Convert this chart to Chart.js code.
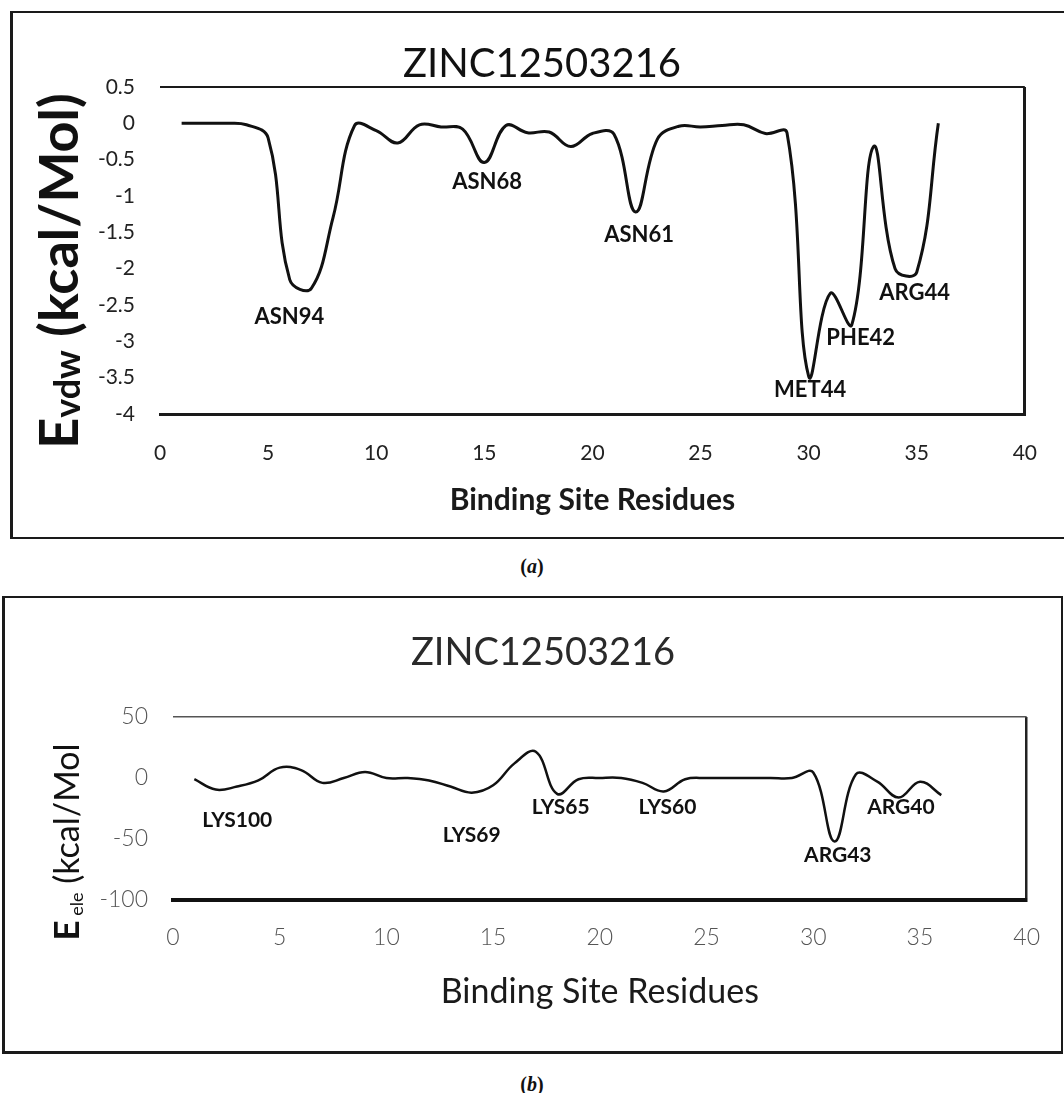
<!DOCTYPE html>
<html>
<head>
<meta charset="utf-8">
<script src="https://cdn.jsdelivr.net/npm/chart.js@4.4.1/dist/chart.umd.min.js"></script>
<style>
    html, body { margin: 0; padding: 0; background: #fff; }
    body { width: 1064px; height: 1093px; position: relative; overflow: hidden; }
    canvas { position: absolute; left: 0; }
    .frame { position: absolute; box-sizing: border-box; border: 2px solid #1a1a1a; }
    .caption { position: absolute; width: 1064px; text-align: center; font-family: 'Liberation Serif', serif; font-weight: bold; font-size: 20px; color: #111; }
</style>
</head>
<body>
<div class="frame" style="left:10px; top:11px; width:1070px; height:528px; border-left-width:3px;"></div>
<div class="frame" style="left:2px; top:596px; width:1061px; height:458px; border-left-width:3px; border-bottom-width:3px;"></div>
<canvas id="vdwChart" width="1064" height="545" style="top:0"></canvas>
<canvas id="eleChart" width="1064" height="470" style="top:590px"></canvas>
<div class="caption" style="top:555px">(<i>a</i>)</div>
<div class="caption" style="top:1073px">(<i>b</i>)</div>
<script>
// residue index along x
const residues = [1, 2, 3, 4, 5, 6, 7, 8, 9, 10, 11, 12, 13, 14, 15, 16, 17, 18,
    19, 20, 21, 22, 23, 24, 25, 26, 27, 28, 29, 30, 31, 32, 33, 34, 35, 36];

// (a) van der Waals energy
const vdwEnergy = [0, 0, 0, -0.02, -0.2, -2.15, -2.27, -1.3, -0.03, -0.1, -0.27, -0.02,
    -0.05, -0.08, -0.54, -0.03, -0.13, -0.12, -0.32, -0.14, -0.15, -1.22, -0.22, -0.04,
    -0.05, -0.03, -0.02, -0.14, -0.13, -3.48, -2.34, -2.77, -0.32, -2.0, -2.05, 0];
const vdwTicks = [0.5, 0, -0.5, -1, -1.5, -2, -2.5, -3, -3.5, -4];
const vdwLabels = ['ASN94', 'ASN68', 'ASN61', 'MET44', 'PHE42', 'ARG44'];
const vdwLabelX = [5.98, 15.13, 22.16, 30.07, 32.41, 34.9];
const vdwLabelY = [-2.66, -0.81, -1.54, -3.67, -2.95, -2.34];

// (b) electrostatic energy
const eleEnergy = [-1, -9.5, -7, -2, 8.5, 6.5, -4, 0, 5, 0, 0, -2, -7, -12, -6, 12,
    21.5, -13, -1, 0, 0, -4, -11, -1, 0, 0, 0, 0, 0, 4.5, -52, 3, -3, -16, -3, -14];
const eleTicks = [50, 0, -50, -100];
const eleLabels = ['LYS100', 'LYS69', 'LYS65', 'LYS60', 'ARG43', 'ARG40'];
const eleLabelX = [3.01, 14.0, 18.17, 23.17, 31.15, 34.11];
const eleLabelY = [-34.4, -46.7, -23.8, -23.8, -63.1, -23.8];

const xTicks = [0, 5, 10, 15, 20, 25, 30, 35, 40];

Chart.defaults.font.family = 'Lato';
Chart.defaults.color = '#1a1a1a';

// подписи остатков у минимумов
function residueLabels(names, xs, ys, font) {
    return {
        id: 'residueLabels',
        afterDatasetsDraw(chart) {
            const ctx = chart.ctx;
            ctx.save();
            ctx.font = font;
            ctx.fillStyle = '#111';
            ctx.textAlign = 'center';
            ctx.textBaseline = 'middle';
            names.forEach((name, i) => {
                const px = chart.scales.x.getPixelForValue(xs[i]);
                const py = chart.scales.y.getPixelForValue(ys[i]);
                ctx.fillText(name, px, py);
            });
            ctx.restore();
        }
    };
}

// вертикальная подпись оси Y с нижним индексом
function energyTitle(parts, x, y) {
    return {
        id: 'energyTitle',
        afterDraw(chart) {
            const ctx = chart.ctx;
            ctx.save();
            const widths = parts.map(p => {
                ctx.font = p.font;
                return ctx.measureText(p.text).width;
            });
            const total = widths.reduce((a, b) => a + b, 0);
            ctx.translate(x, y);
            ctx.rotate(-Math.PI / 2);
            ctx.textAlign = 'left';
            ctx.textBaseline = 'alphabetic';
            ctx.fillStyle = '#111';
            let pos = -total / 2;
            parts.forEach((p, i) => {
                ctx.font = p.font;
                ctx.fillText(p.text, pos, p.shift || 0);
                pos += widths[i];
            });
            ctx.restore();
        }
    };
}

function toPoints(values) {
    return residues.map((r, i) => ({ x: r, y: values[i] }));
}

new Chart(document.getElementById('vdwChart'), {
    type: 'line',
    data: {
        datasets: [{
            data: toPoints(vdwEnergy),
            borderColor: '#111',
            borderWidth: 3,
            pointRadius: 0,
            tension: 0.4,
            fill: false
        }]
    },
    options: {
        responsive: false,
        animation: false,
        layout: { padding: { left: 54, right: 34, top: 0, bottom: 0 } },
        plugins: {
            legend: { display: false },
            tooltip: { enabled: false },
            title: {
                display: true,
                text: 'ZINC12503216',
                color: '#111',
                font: { size: 40, weight: 'normal', lineHeight: 1 },
                padding: { top: 44, bottom: 3 }
            }
        },
        scales: {
            x: {
                type: 'linear',
                min: 0,
                max: 40,
                afterBuildTicks: s => { s.ticks = xTicks.map(v => ({ value: v })); },
                afterFit: s => { s.height = 131; },
                ticks: { font: { size: 21 }, color: '#222', padding: 27 },
                grid: {
                    drawTicks: false,
                    lineWidth: 3,
                    color: c => c.tick && c.tick.value === 40 ? '#1a1a1a' : 'rgba(0,0,0,0)'
                },
                border: { color: '#1a1a1a', width: 3 },
                title: {
                    display: true,
                    text: 'Binding Site Residues',
                    color: '#1a1a1a',
                    font: { size: 30, weight: 'bold' },
                    padding: { top: 0, bottom: 27 }
                }
            },
            y: {
                min: -4,
                max: 0.5,
                afterBuildTicks: s => { s.ticks = vdwTicks.map(v => ({ value: v })); },
                afterFit: s => { s.width = 106; },
                ticks: { font: { size: 21 }, color: '#222', padding: 25, callback: v => String(v) },
                grid: {
                    drawTicks: false,
                    lineWidth: 2,
                    color: c => c.tick && c.tick.value === 0.5 ? '#1a1a1a' : 'rgba(0,0,0,0)'
                },
                border: { display: false }
            }
        }
    },
    plugins: [
        residueLabels(vdwLabels, vdwLabelX, vdwLabelY, 'bold 22px Lato'),
        energyTitle([
            { text: 'E', font: 'bold 54px Lato' },
            { text: 'vdw', font: 'bold 36px Lato', shift: 2 },
            { text: ' (kcal/Mol)', font: 'bold 54px Lato' }
        ], 78, 271)
    ]
});

new Chart(document.getElementById('eleChart'), {
    type: 'line',
    data: {
        datasets: [{
            data: toPoints(eleEnergy),
            borderColor: '#111',
            borderWidth: 2.5,
            pointRadius: 0,
            tension: 0.4,
            fill: false
        }]
    },
    options: {
        responsive: false,
        animation: false,
        layout: { padding: { left: 50, right: 28, top: 0, bottom: 0 } },
        plugins: {
            legend: { display: false },
            tooltip: { enabled: false },
            title: {
                display: true,
                text: 'ZINC12503216',
                color: '#2a2a2a',
                font: { size: 38, weight: 'normal', lineHeight: 1 },
                padding: { top: 44, bottom: 45 }
            }
        },
        scales: {
            x: {
                type: 'linear',
                min: 0,
                max: 40,
                afterBuildTicks: s => { s.ticks = xTicks.map(v => ({ value: v })); },
                afterFit: s => { s.height = 160; },
                ticks: { font: { size: 23, weight: 300 }, color: '#555', padding: 24 },
                grid: {
                    drawTicks: false,
                    lineWidth: 2.5,
                    color: c => c.tick && c.tick.value === 40 ? '#222' : 'rgba(0,0,0,0)'
                },
                border: { color: '#111', width: 4 },
                title: {
                    display: true,
                    text: 'Binding Site Residues',
                    color: '#1a1a1a',
                    font: { size: 34, weight: 'normal' },
                    padding: { top: 0, bottom: 48 }
                }
            },
            y: {
                min: -100,
                max: 50,
                afterBuildTicks: s => { s.ticks = eleTicks.map(v => ({ value: v })); },
                afterFit: s => { s.width = 123; },
                ticks: { font: { size: 23, weight: 300 }, color: '#555', padding: 25, callback: v => String(v) },
                grid: {
                    drawTicks: false,
                    lineWidth: 1.5,
                    color: c => c.tick && c.tick.value === 50 ? '#555' : 'rgba(0,0,0,0)'
                },
                border: { display: false }
            }
        }
    },
    plugins: [
        residueLabels(eleLabels, eleLabelX, eleLabelY, 'bold 21px Lato'),
        energyTitle([
            { text: 'E', font: 'bold 35px Lato' },
            { text: ' ele', font: '18px Lato', shift: 4 },
            { text: ' (kcal/Mol', font: '34px Lato' }
        ], 79, 252)
    ]
});
</script>
</body>
</html>
